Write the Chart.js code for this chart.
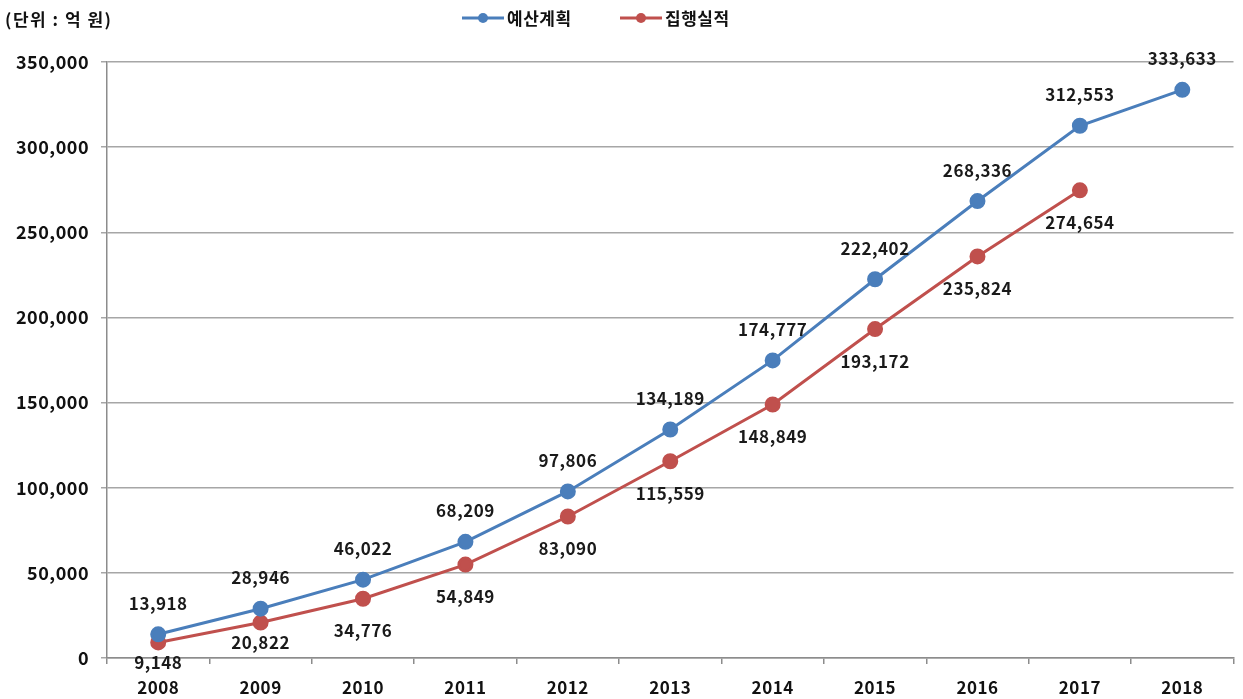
<!DOCTYPE html>
<html>
<head>
<meta charset="utf-8">
<script src="https://cdn.jsdelivr.net/npm/chart.js@4"></script>
<style>
  html, body { margin: 0; padding: 0; background: #fff; }
  #wrap { position: relative; width: 1243px; height: 699px; }
</style>
</head>
<body>
<div id="wrap"><canvas id="budgetChart" width="1243" height="699"></canvas></div>
<script>
const years = ['2008', '2009', '2010', '2011', '2012', '2013', '2014', '2015', '2016', '2017', '2018'];
const planValues = [13918, 28946, 46022, 68209, 97806, 134189, 174777, 222402, 268336, 312553, 333633];
const actualValues = [9148, 20822, 34776, 54849, 83090, 115559, 148849, 193172, 235824, 274654, null];
const seriesNames = ['예산계획', '집행실적'];
const unitLabel = '(단위 : 억 원)';

const FONT = '"Noto Sans CJK KR", "Malgun Gothic", sans-serif';
const blue = '#4a7ebb';
const red = '#c0504d';

// spread the glyphs a little, the original font is wider
const spacing = {
    id: 'spacing',
    beforeDraw(chart) {
        chart.ctx.letterSpacing = '0.5px';
    }
};

// value labels: blue above the point, red below (first two red ones sit closer)
const valueLabels = {
    id: 'valueLabels',
    afterDatasetsDraw(chart) {
        const ctx = chart.ctx;
        ctx.save();
        ctx.letterSpacing = '0.5px';
        ctx.font = 'bold 17px ' + FONT;
        ctx.fillStyle = '#1a1a1a';
        ctx.textAlign = 'center';
        ctx.textBaseline = 'middle';
        chart.data.datasets.forEach((ds, i) => {
            const meta = chart.getDatasetMeta(i);
            meta.data.forEach((pt, j) => {
                const v = ds.data[j];
                if (v == null) return;
                let dy = i === 0 ? -31 : 32;
                if (i === 1 && j < 2) dy = 20;
                ctx.fillText(v.toLocaleString('en-US'), pt.x, pt.y + dy);
            });
        });
        ctx.restore();
    }
};

// header: unit text + legend with line-and-marker symbols
const header = {
    id: 'header',
    afterDraw(chart) {
        const ctx = chart.ctx;
        ctx.save();
        ctx.font = 'bold 17px ' + FONT;
        ctx.letterSpacing = '1.5px';
        ctx.fillStyle = '#111';
        ctx.textBaseline = 'middle';
        ctx.textAlign = 'left';
        ctx.fillText(unitLabel, 5, 20);

        ctx.letterSpacing = '0.5px';
        ctx.font = 'bold 17px ' + FONT;
        const starts = [462, 620];
        chart.data.datasets.forEach((ds, i) => {
            const x = starts[i];
            const y = 18;
            ctx.strokeStyle = ds.borderColor;
            ctx.lineWidth = 3;
            ctx.beginPath();
            ctx.moveTo(x, y);
            ctx.lineTo(x + 42, y);
            ctx.stroke();
            ctx.fillStyle = ds.borderColor;
            ctx.beginPath();
            ctx.arc(x + 21, y, 5, 0, Math.PI * 2);
            ctx.fill();
            ctx.fillStyle = '#111';
            ctx.fillText(ds.label, x + 45, y + 1);
        });
        ctx.restore();
    }
};

new Chart(document.getElementById('budgetChart').getContext('2d'), {
    type: 'line',
    data: {
        labels: years,
        datasets: [{
            label: seriesNames[0],
            data: planValues,
            borderColor: blue,
            backgroundColor: blue,
            borderWidth: 3,
            pointRadius: 6.5,
            pointHoverRadius: 6.5,
            tension: 0
        }, {
            label: seriesNames[1],
            data: actualValues,
            borderColor: red,
            backgroundColor: red,
            borderWidth: 3,
            pointRadius: 6.5,
            pointHoverRadius: 6.5,
            tension: 0
        }]
    },
    options: {
        responsive: false,
        animation: false,
        layout: { padding: { top: 62, right: 6, left: 0, bottom: 0 } },
        plugins: {
            legend: { display: false },
            tooltip: { enabled: false }
        },
        scales: {
            x: {
                offset: true,
                grid: {
                    offset: true,
                    drawOnChartArea: false,
                    color: '#8c8c8c',
                    lineWidth: 1.5,
                    tickLength: 6
                },
                border: { color: '#8c8c8c', width: 1.5 },
                ticks: {
                    color: '#111',
                    font: { family: FONT, size: 17, weight: 'bold' },
                    padding: 13,
                    maxRotation: 0
                },
                afterFit(scale) { scale.height = 41; }
            },
            y: {
                min: 0,
                max: 350000,
                grid: {
                    color: '#a6a6a6',
                    lineWidth: 1.5,
                    tickLength: 6
                },
                border: { color: '#8c8c8c', width: 1.5 },
                ticks: {
                    stepSize: 50000,
                    color: '#111',
                    padding: 12,
                    font: { family: FONT, size: 18, weight: 'bold' },
                    callback: v => v.toLocaleString('en-US')
                },
                afterFit(scale) { scale.width = 107; }
            }
        }
    },
    plugins: [spacing, valueLabels, header]
});
</script>
</body>
</html>
